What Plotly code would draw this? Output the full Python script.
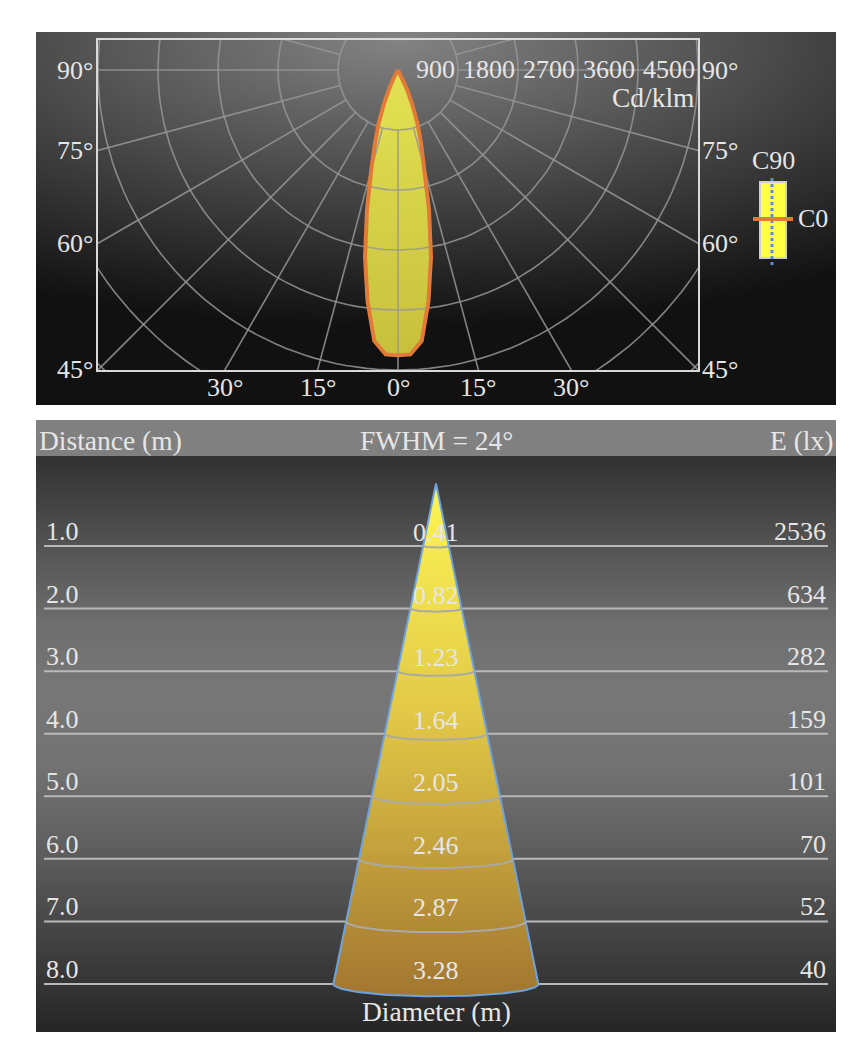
import base64, zlib, struct, math
import numpy as np
import plotly.graph_objects as go

# ---------------- data ----------------
polar_angles = [0, 2.5, 5, 7.5, 10, 12.5, 15, 17.5, 20, 22.5, 25, 27.5, 30, 35, 40, 50, 60, 70, 80, 90]
c0_values = [4280, 4270, 4080, 3500, 2850, 2150, 1550, 1150, 850, 560, 320, 150, 60, 20, 5, 0, 0, 0, 0, 0]
c90_values = [4280, 4270, 4080, 3500, 2850, 2150, 1550, 1150, 850, 560, 320, 150, 60, 20, 5, 0, 0, 0, 0, 0]
intensity_ticks = [900, 1800, 2700, 3600, 4500]
grid_radii = [900, 1800, 2700, 3600, 4500, 5400, 6300]
ray_angles = list(range(0, 360, 15))
side_angle_ticks = [45, 60, 75, 90]
bottom_angle_ticks = [-30, -15, 0, 15, 30]
unit_label = "Cd/klm"

distances = [1.0, 2.0, 3.0, 4.0, 5.0, 6.0, 7.0, 8.0]
diameters = [0.41, 0.82, 1.23, 1.64, 2.05, 2.46, 2.87, 3.28]
illuminance = [2536, 634, 282, 159, 101, 70, 52, 40]
fwhm = 24

# ---------------- helpers ----------------
W, H = 860, 1054
FONT = "Liberation Serif, Times New Roman, serif"
TXT = "#e6e6e6"


def px(x):
    return x / W


def py(y):
    return 1 - y / H


def png_gray(w, h, rows):
    raw = b"".join(b"\x00" + bytes(r) for r in rows)

    def chunk(t, d):
        c = struct.pack(">I", len(d)) + t + d
        return c + struct.pack(">I", zlib.crc32(t + d) & 0xffffffff)

    png = (b"\x89PNG\r\n\x1a\n"
           + chunk(b"IHDR", struct.pack(">IIBBBBB", w, h, 8, 0, 0, 0, 0))
           + chunk(b"IDAT", zlib.compress(raw, 9))
           + chunk(b"IEND", b""))
    return "data:image/png;base64," + base64.b64encode(png).decode()


# top panel background (radial glow)
tw, th = 400, 187
rows = []
for j in range(th):
    Y = 32 + (j + 0.5) * 373 / th
    row = []
    for i in range(tw):
        X = 36 + (i + 0.5) * 800 / tw
        d = math.sqrt(((X - 398) / 780) ** 2 + ((Y - 40) / 290) ** 2)
        v = 17 + 115 * max(0.0, 1 - d) ** 1.05
        row.append(int(max(0, min(255, v))))
    rows.append(row)
top_bg = png_gray(tw, th, rows)

# bottom panel background (vertical band)
stops = [(456, 50), (540, 82), (620, 110), (690, 120), (770, 114), (860, 92), (950, 64), (1032, 38)]
bh = 288
rows = []
for j in range(bh):
    Y = 456 + (j + 0.5) * 576 / bh
    for k in range(len(stops) - 1):
        if stops[k][0] <= Y <= stops[k + 1][0]:
            f = (Y - stops[k][0]) / (stops[k + 1][0] - stops[k][0])
            v = stops[k][1] + f * (stops[k + 1][1] - stops[k][1])
            break
    rows.append([int(v)] * 4)
bot_bg = png_gray(4, bh, rows)

fig = go.Figure()

# ---------------- polar (top) ----------------
ang_full = [-a for a in reversed(polar_angles)] + polar_angles[1:]
c0_full = list(reversed(c0_values)) + c0_values[1:]
c90_full = list(reversed(c90_values)) + c90_values[1:]
c0x = [v * math.sin(math.radians(a)) for a, v in zip(ang_full, c0_full)]
c0y = [-v * math.cos(math.radians(a)) for a, v in zip(ang_full, c0_full)]
c90x = [v * math.sin(math.radians(a)) for a, v in zip(ang_full, c90_full)]
c90y = [-v * math.cos(math.radians(a)) for a, v in zip(ang_full, c90_full)]

fig.add_trace(go.Scatter(
    x=c0x, y=c0y, mode="lines", fill="toself", line=dict(width=0, color="rgba(0,0,0,0)"),
    fillgradient=dict(type="vertical", colorscale=[[0, "#c7c03c"], [1, "#e3e253"]],
                      start=-max(c0_values), stop=0),
    hoverinfo="skip", showlegend=False, xaxis="x", yaxis="y"))

gx, gy = [], []
for r in grid_radii:
    for t in range(0, 361, 2):
        gx.append(r * math.sin(math.radians(t)))
        gy.append(-r * math.cos(math.radians(t)))
    gx.append(None)
    gy.append(None)
for a in ray_angles:
    for r in (grid_radii[0], 6700):
        gx.append(r * math.sin(math.radians(a)))
        gy.append(-r * math.cos(math.radians(a)))
    gx.append(None)
    gy.append(None)
fig.add_trace(go.Scatter(x=gx, y=gy, mode="lines", line=dict(color="rgba(150,150,150,0.85)", width=1.6),
                         hoverinfo="skip", showlegend=False, xaxis="x", yaxis="y"))

fig.add_trace(go.Scatter(x=c90x, y=c90y, mode="lines", line=dict(color="#5b8fd6", width=2, dash="dot"),
                         name="C90", showlegend=False, xaxis="x", yaxis="y"))
fig.add_trace(go.Scatter(x=c0x, y=c0y, mode="lines", line=dict(color="#e27b38", width=4),
                         name="C0", showlegend=False, xaxis="x", yaxis="y"))

# ---------------- cone (bottom) ----------------
k_ell = 0.12
r_end = diameters[-1] / 2
d_end = distances[-1]
cx, cy = [0.0, r_end], [0.0, d_end]
for t in np.linspace(0, math.pi, 61):
    cx.append(r_end * math.cos(t))
    cy.append(d_end + k_ell * r_end * math.sin(t))
cx += [0.0]
cy += [0.0]
fig.add_trace(go.Scatter(
    x=cx, y=cy, mode="lines", fill="toself", line=dict(color="#6fa3de", width=2),
    fillgradient=dict(type="vertical", colorscale=[[0, "#fcf654"], [0.45, "#e2c847"], [1, "#a27630"]],
                      start=0, stop=d_end + 0.2),
    hoverinfo="skip", showlegend=False, xaxis="x2", yaxis="y2"))

ax, ay = [], []
for d, dia in zip(distances[:-1], diameters[:-1]):
    r = dia / 2
    for t in np.linspace(0, math.pi, 41):
        ax.append(r * math.cos(t))
        ay.append(d + k_ell * r * math.sin(t))
    ax.append(None)
    ay.append(None)
fig.add_trace(go.Scatter(x=ax, y=ay, mode="lines", line=dict(color="#a9a9a9", width=2),
                         hoverinfo="skip", showlegend=False, xaxis="x2", yaxis="y2"))

# ---------------- shapes ----------------
shapes = [
    dict(type="rect", xref="paper", yref="paper", x0=px(36), x1=px(836), y0=py(456), y1=py(420),
         fillcolor="#808080", line=dict(width=0), layer="below"),
]
for d in distances:
    shapes.append(dict(type="line", xref="x2 domain", yref="y2", x0=0.01, x1=0.99, y0=d, y1=d,
                       line=dict(color="#b9b9b9", width=2), layer="below"))
# legend swatch
shapes += [
    dict(type="rect", xref="paper", yref="paper", x0=px(760), x1=px(786), y0=py(258), y1=py(182),
         fillcolor="#ffff44", line=dict(color="#cfcfcf", width=2)),
    dict(type="line", xref="paper", yref="paper", x0=px(772), x1=px(772), y0=py(265), y1=py(175),
         line=dict(color="#5b8fd6", width=3, dash="dot")),
    dict(type="line", xref="paper", yref="paper", x0=px(753), x1=px(793), y0=py(219), y1=py(219),
         line=dict(color="#e27b38", width=4)),
]

# ---------------- annotations ----------------
ann = []
f26 = dict(family=FONT, size=26, color=TXT)
f27 = dict(family=FONT, size=27.5, color=TXT)
for a in side_angle_ticks:
    yy = round(-4500 / math.tan(math.radians(a)), 6) if a != 90 else 0
    yy = max(yy, -4499.9)
    ann.append(dict(x=-4499.9, y=yy, xref="x", yref="y", text=f"{a}°", showarrow=False,
                    xanchor="right", yanchor="middle", xshift=-3, font=f26))
    ann.append(dict(x=4499.9, y=yy, xref="x", yref="y", text=f"{a}°", showarrow=False,
                    xanchor="left", yanchor="middle", xshift=2, font=f26))
for a in bottom_angle_ticks:
    ann.append(dict(x=4500 * math.tan(math.radians(a)), y=-4499.9, xref="x", yref="y", text=f"{abs(a)}°",
                    showarrow=False, xanchor="center", yanchor="top", yshift=-1, font=f26))
for r in intensity_ticks:
    ann.append(dict(x=min(r, 4499.9), y=0, xref="x", yref="y", text=str(r), showarrow=False,
                    xanchor="right", yanchor="middle", xshift=-1, yshift=1, font=f26))
ann.append(dict(x=4499.9, y=-405, xref="x", yref="y", text=unit_label, showarrow=False,
                xanchor="right", yanchor="middle", xshift=-1, font=f27))
ann.append(dict(x=px(773), y=py(160), xref="paper", yref="paper", text="C90", showarrow=False,
                xanchor="center", yanchor="middle", font=f26))
ann.append(dict(x=px(796), y=py(219), xref="paper", yref="paper", text="C0", showarrow=False,
                xanchor="left", yanchor="middle", font=f26))

ann.append(dict(x=px(37), y=py(440), xref="paper", yref="paper", text="Distance (m)", showarrow=False,
                xanchor="left", yanchor="middle", font=f27))
ann.append(dict(x=px(436), y=py(440), xref="paper", yref="paper", text=f"FWHM = {fwhm}°", showarrow=False,
                xanchor="center", yanchor="middle", font=f27))
ann.append(dict(x=px(835), y=py(440), xref="paper", yref="paper", text="E (lx)", showarrow=False,
                xanchor="right", yanchor="middle", font=f27))
for d, dia, e in zip(distances, diameters, illuminance):
    ann.append(dict(x=0.01, y=d, xref="x2 domain", yref="y2", text=f"{d:.1f}", showarrow=False,
                    xanchor="left", yanchor="bottom", yshift=-2, font=f26))
    ann.append(dict(x=0.99, y=d, xref="x2 domain", yref="y2", text=str(e), showarrow=False,
                    xanchor="right", yanchor="bottom", yshift=-2, font=f26))
    ann.append(dict(x=0, y=d, xref="x2", yref="y2", text=f"{dia:.2f}", showarrow=False,
                    xanchor="center", yanchor="bottom", yshift=-3, font=f26))
ann.append(dict(x=px(436), y=py(1011), xref="paper", yref="paper", text="Diameter (m)", showarrow=False,
                xanchor="center", yanchor="middle", font=f27))

# ---------------- layout ----------------
PXM = 438 / 7.0
tip_y = 546 - PXM
fig.update_layout(
    width=W, height=H, margin=dict(l=0, r=0, t=0, b=0),
    paper_bgcolor="white", plot_bgcolor="rgba(0,0,0,0)",
    showlegend=False,
    xaxis=dict(domain=[px(98), px(698)], range=[-4500, 4500], showline=True, mirror=True,
               linecolor="#d9d9d9", linewidth=2, showgrid=False, zeroline=False,
               showticklabels=False, ticks="", fixedrange=True),
    yaxis=dict(domain=[py(370), py(40)], range=[-4500, 450], showline=True, mirror=True,
               linecolor="#d9d9d9", linewidth=2, showgrid=False, zeroline=False,
               showticklabels=False, ticks="", fixedrange=True),
    xaxis2=dict(domain=[px(36), px(836)], range=[-400 / PXM, 400 / PXM], visible=False, fixedrange=True),
    yaxis2=dict(domain=[py(1032), py(456)], range=[(1032 - tip_y) / PXM, (456 - tip_y) / PXM],
                visible=False, fixedrange=True),
    shapes=shapes, annotations=ann,
    images=[
        dict(source=top_bg, xref="paper", yref="paper", x=px(36), y=py(32), sizex=800 / W, sizey=373 / H,
             xanchor="left", yanchor="top", sizing="stretch", layer="below"),
        dict(source=bot_bg, xref="paper", yref="paper", x=px(36), y=py(456), sizex=800 / W, sizey=576 / H,
             xanchor="left", yanchor="top", sizing="stretch", layer="below"),
    ],
    font=dict(family=FONT, color=TXT),
)

fig.write_html("out.html", config={"displayModeBar": False},
               post_script="document.body.style.margin='0';document.body.style.overflow='hidden';")
